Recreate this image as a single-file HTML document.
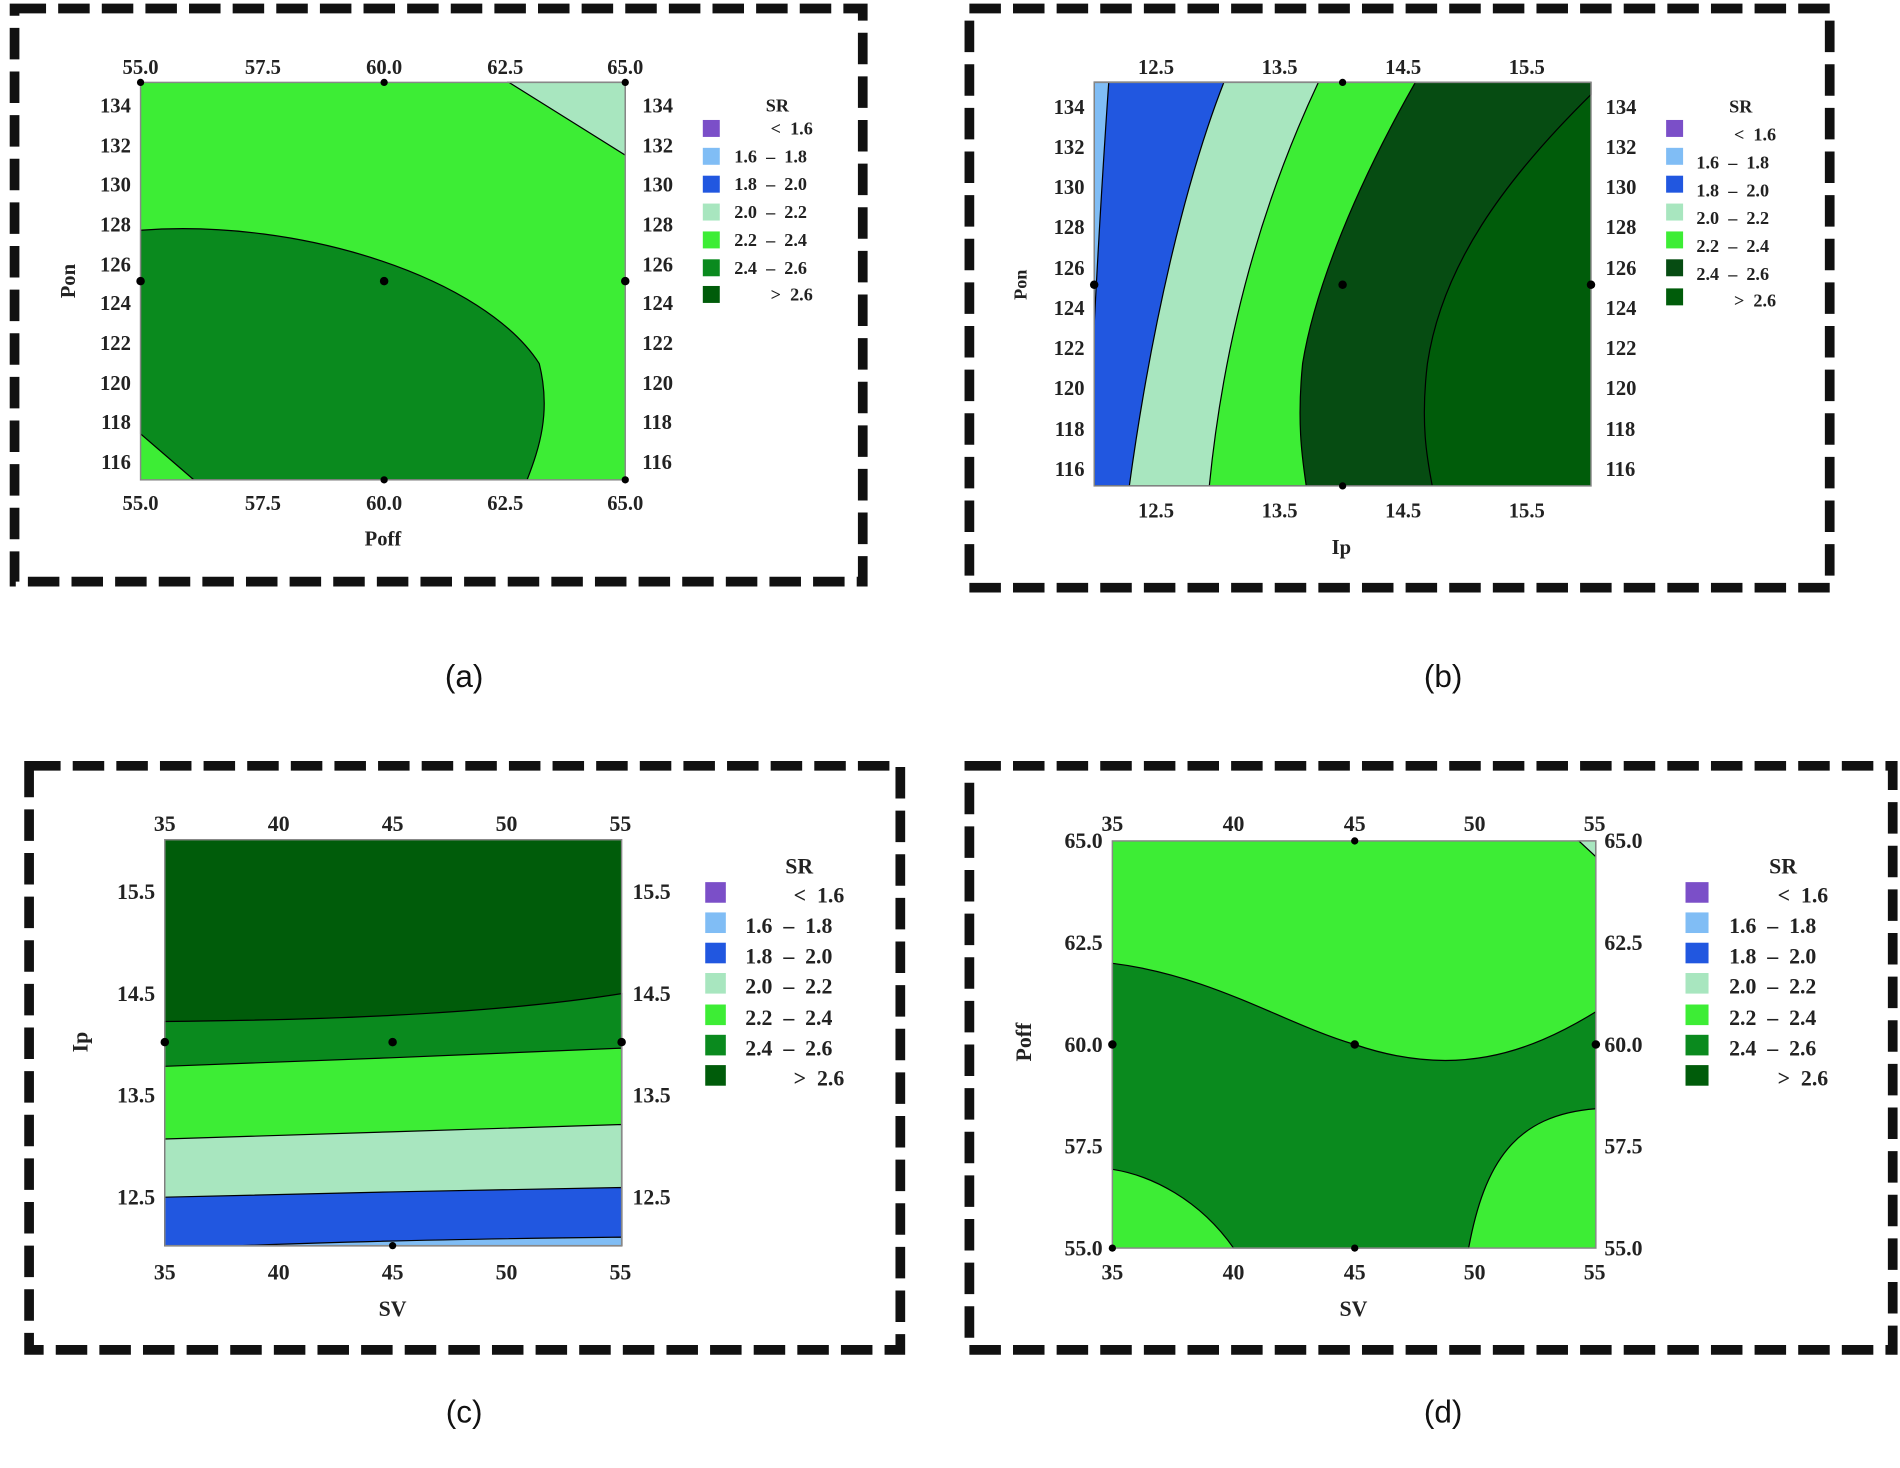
<!DOCTYPE html>
<html><head><style>
html,body{margin:0;padding:0;background:#fff;}
svg{display:block;}
text{font-family:"Liberation Serif",serif;font-weight:bold;fill:#222;white-space:pre;}
.lg{font-weight:normal;fill:#333;}
.cap{font-family:"Liberation Sans",sans-serif;font-weight:normal;font-size:26px;fill:#111;}
.fr{fill:none;stroke:#111;stroke-width:8;stroke-dasharray:26,10;}
.ax{fill:none;stroke:#888;stroke-width:1.2;}
.ct{stroke:#000;stroke-width:1;}
.ln{fill:none;stroke:#000;stroke-width:1;}
</style></head><body>
<svg width="1900" height="1468" viewBox="0 0 1568 1211.5" xmlns="http://www.w3.org/2000/svg">
<!-- ===== (a) ===== -->
<rect class="fr" x="12" y="7" width="700" height="473"/>
<rect x="116" y="68" width="400" height="328" fill="#3ded35"/>
<path d="M420,68 L516,68 L516,128 Z" fill="#a8e6bf" class="ct"/>
<path d="M116,190 C250,180 400,230 445,300 C455,340 445,370 435,396 L160,396 L116,358 Z" fill="#0a8a1e" class="ct"/>
<rect class="ax" x="116" y="68" width="400" height="328"/>
<g font-size="17" text-anchor="middle">
<text x="116" y="61">55.0</text><text x="217" y="61">57.5</text><text x="317" y="61">60.0</text><text x="417" y="61">62.5</text><text x="516" y="61">65.0</text>
<text x="116" y="421">55.0</text><text x="217" y="421">57.5</text><text x="317" y="421">60.0</text><text x="417" y="421">62.5</text><text x="516" y="421">65.0</text>
<text x="316" y="450">Poff</text>
</g>
<g font-size="17">
<g text-anchor="end">
<text x="108" y="93">134</text><text x="108" y="126">132</text><text x="108" y="158">130</text><text x="108" y="191">128</text><text x="108" y="224">126</text><text x="108" y="256">124</text><text x="108" y="289">122</text><text x="108" y="322">120</text><text x="108" y="354">118</text><text x="108" y="387">116</text>
</g>
<text x="530" y="93">134</text><text x="530" y="126">132</text><text x="530" y="158">130</text><text x="530" y="191">128</text><text x="530" y="224">126</text><text x="530" y="256">124</text><text x="530" y="289">122</text><text x="530" y="322">120</text><text x="530" y="354">118</text><text x="530" y="387">116</text>
<text transform="translate(62,232) rotate(-90)" text-anchor="middle">Pon</text>
</g>
<g fill="#000"><circle cx="116" cy="232" r="3.5"/><circle cx="317" cy="232" r="3.5"/><circle cx="516" cy="232" r="3.5"/><circle cx="317" cy="396" r="3"/><circle cx="317" cy="68" r="3"/><circle cx="516" cy="68" r="3"/><circle cx="116" cy="68" r="3"/><circle cx="516" cy="396" r="3"/></g>
<g class="lg" font-size="15">
<text x="632" y="92">SR</text>
<rect x="580" y="99" width="14" height="14" fill="#7b4fc8"/><text x="636" y="111">&lt;  1.6</text>
<rect x="580" y="122" width="14" height="14" fill="#80bdf5"/><text x="606" y="134">1.6  –  1.8</text>
<rect x="580" y="145" width="14" height="14" fill="#2157e0"/><text x="606" y="157">1.8  –  2.0</text>
<rect x="580" y="168" width="14" height="14" fill="#a8e6bf"/><text x="606" y="180">2.0  –  2.2</text>
<rect x="580" y="191" width="14" height="14" fill="#3ded35"/><text x="606" y="203">2.2  –  2.4</text>
<rect x="580" y="214" width="14" height="14" fill="#0a8a1e"/><text x="606" y="226">2.4  –  2.6</text>
<rect x="580" y="236" width="14" height="14" fill="#005c0a"/><text x="636" y="248">&gt;  2.6</text>
</g>
<text class="cap" x="383" y="567" text-anchor="middle">(a)</text>

<!-- ===== (b) ===== -->
<rect class="fr" x="800" y="7" width="710" height="478"/>
<rect x="903" y="68" width="410" height="333" fill="#005c0a"/>
<path d="M903,68 L1313,68 L1313,78 C1240,150 1190,220 1178,300 C1172,350 1178,380 1182,401 L903,401 Z" fill="#064c12" class="ct"/>
<path d="M903,68 L1168,68 C1110,170 1083,250 1075,300 C1070,350 1075,380 1078,401 L903,401 Z" fill="#3ded35" class="ct"/>
<path d="M903,68 L1088,68 C1040,170 1010,280 998,401 L903,401 Z" fill="#a8e6bf" class="ct"/>
<path d="M903,68 L1010,68 C978,150 950,270 932,401 L903,401 Z" fill="#2157e0" class="ct"/>
<path d="M903,68 L915,68 C910,140 906,210 903,268 Z" fill="#80bdf5" class="ct"/>
<rect class="ax" x="903" y="68" width="410" height="333"/>
<g font-size="17" text-anchor="middle">
<text x="954" y="61">12.5</text><text x="1056" y="61">13.5</text><text x="1158" y="61">14.5</text><text x="1260" y="61">15.5</text>
<text x="954" y="427">12.5</text><text x="1056" y="427">13.5</text><text x="1158" y="427">14.5</text><text x="1260" y="427">15.5</text>
<text x="1107" y="457">Ip</text>
</g>
<g font-size="17">
<g text-anchor="end">
<text x="895" y="94">134</text><text x="895" y="127">132</text><text x="895" y="160">130</text><text x="895" y="193">128</text><text x="895" y="227">126</text><text x="895" y="260">124</text><text x="895" y="293">122</text><text x="895" y="326">120</text><text x="895" y="360">118</text><text x="895" y="393">116</text>
</g>
<text x="1325" y="94">134</text><text x="1325" y="127">132</text><text x="1325" y="160">130</text><text x="1325" y="193">128</text><text x="1325" y="227">126</text><text x="1325" y="260">124</text><text x="1325" y="293">122</text><text x="1325" y="326">120</text><text x="1325" y="360">118</text><text x="1325" y="393">116</text>
<text transform="translate(847,235) rotate(-90)" text-anchor="middle" font-size="15">Pon</text>
</g>
<g fill="#000"><circle cx="903" cy="235" r="3.5"/><circle cx="1108" cy="235" r="3.5"/><circle cx="1313" cy="235" r="3.5"/><circle cx="1108" cy="68" r="3"/><circle cx="1108" cy="401" r="3"/></g>
<g class="lg" font-size="15">
<text x="1427" y="93">SR</text>
<rect x="1375" y="99" width="14" height="14" fill="#7b4fc8"/><text x="1431" y="116">&lt;  1.6</text>
<rect x="1375" y="122" width="14" height="14" fill="#80bdf5"/><text x="1400" y="139">1.6  –  1.8</text>
<rect x="1375" y="145" width="14" height="14" fill="#2157e0"/><text x="1400" y="162">1.8  –  2.0</text>
<rect x="1375" y="168" width="14" height="14" fill="#a8e6bf"/><text x="1400" y="185">2.0  –  2.2</text>
<rect x="1375" y="191" width="14" height="14" fill="#3ded35"/><text x="1400" y="208">2.2  –  2.4</text>
<rect x="1375" y="214" width="14" height="14" fill="#064c12"/><text x="1400" y="231">2.4  –  2.6</text>
<rect x="1375" y="238" width="14" height="14" fill="#005c0a"/><text x="1431" y="253">&gt;  2.6</text>
</g>
<text class="cap" x="1191" y="567" text-anchor="middle">(b)</text>

<!-- ===== (c) ===== -->
<rect class="fr" x="24" y="632" width="719" height="482"/>
<rect x="136" y="693" width="377" height="335" fill="#005c0a"/>
<path d="M136,843 C250,842 400,838 513,820 L513,1028 L136,1028 Z" fill="#0a8a1e" class="ct"/>
<path d="M136,880 C250,876 400,870 513,865 L513,1028 L136,1028 Z" fill="#3ded35" class="ct"/>
<path d="M136,940 C250,936 400,932 513,928 L513,1028 L136,1028 Z" fill="#a8e6bf" class="ct"/>
<path d="M136,988 C250,985 400,982 513,980 L513,1028 L136,1028 Z" fill="#2157e0" class="ct"/>
<path d="M200,1028 C300,1024 420,1022 513,1021 L513,1028 Z" fill="#80bdf5" class="ct"/>
<rect class="ax" x="136" y="693" width="377" height="335"/>
<g font-size="18" text-anchor="middle">
<text x="136" y="686">35</text><text x="230" y="686">40</text><text x="324" y="686">45</text><text x="418" y="686">50</text><text x="512" y="686">55</text>
<text x="136" y="1056">35</text><text x="230" y="1056">40</text><text x="324" y="1056">45</text><text x="418" y="1056">50</text><text x="512" y="1056">55</text>
<text x="324" y="1086" font-weight="normal">SV</text>
</g>
<g font-size="18">
<g text-anchor="end"><text x="128" y="742">15.5</text><text x="128" y="826">14.5</text><text x="128" y="910">13.5</text><text x="128" y="994">12.5</text></g>
<text x="522" y="742">15.5</text><text x="522" y="826">14.5</text><text x="522" y="910">13.5</text><text x="522" y="994">12.5</text>
<text transform="translate(72,860) rotate(-90)" text-anchor="middle">Ip</text>
</g>
<g fill="#000"><circle cx="136" cy="860" r="3.5"/><circle cx="324" cy="860" r="3.5"/><circle cx="513" cy="860" r="3.5"/><circle cx="324" cy="1028" r="3"/></g>
<g class="lg" font-size="18">
<text x="648" y="721">SR</text>
<rect x="582" y="728" width="17" height="17" fill="#7b4fc8"/><text x="655" y="745">&lt;  1.6</text>
<rect x="582" y="753" width="17" height="17" fill="#80bdf5"/><text x="615" y="770">1.6  –  1.8</text>
<rect x="582" y="778" width="17" height="17" fill="#2157e0"/><text x="615" y="795">1.8  –  2.0</text>
<rect x="582" y="803" width="17" height="17" fill="#a8e6bf"/><text x="615" y="820">2.0  –  2.2</text>
<rect x="582" y="829" width="17" height="17" fill="#3ded35"/><text x="615" y="846">2.2  –  2.4</text>
<rect x="582" y="854" width="17" height="17" fill="#0a8a1e"/><text x="615" y="871">2.4  –  2.6</text>
<rect x="582" y="879" width="17" height="17" fill="#005c0a"/><text x="655" y="896">&gt;  2.6</text>
</g>
<text class="cap" x="383" y="1174" text-anchor="middle">(c)</text>

<!-- ===== (d) ===== -->
<rect class="fr" x="800" y="632" width="762" height="482"/>
<rect x="918" y="694" width="399" height="336" fill="#3ded35"/>
<path d="M1303,694 L1317,694 L1317,707 Z" fill="#a8e6bf" class="ct"/>
<path d="M918,795 C1000,805 1060,845 1118,862 C1200,890 1260,870 1317,835 L1317,915 C1250,920 1225,960 1212,1030 L1018,1030 C990,990 950,970 918,965 Z" fill="#0a8a1e" class="ct"/>
<rect class="ax" x="918" y="694" width="399" height="336"/>
<g font-size="18" text-anchor="middle">
<text x="918" y="686">35</text><text x="1018" y="686">40</text><text x="1118" y="686">45</text><text x="1217" y="686">50</text><text x="1316" y="686">55</text>
<text x="918" y="1056">35</text><text x="1018" y="1056">40</text><text x="1118" y="1056">45</text><text x="1217" y="1056">50</text><text x="1316" y="1056">55</text>
<text x="1117" y="1086">SV</text>
</g>
<g font-size="18">
<g text-anchor="end"><text x="910" y="700">65.0</text><text x="910" y="784">62.5</text><text x="910" y="868">60.0</text><text x="910" y="952">57.5</text><text x="910" y="1036">55.0</text></g>
<text x="1324" y="700">65.0</text><text x="1324" y="784">62.5</text><text x="1324" y="868">60.0</text><text x="1324" y="952">57.5</text><text x="1324" y="1036">55.0</text>
<text transform="translate(851,860) rotate(-90)" text-anchor="middle">Poff</text>
</g>
<g fill="#000"><circle cx="918" cy="862" r="3.5"/><circle cx="1118" cy="862" r="3.5"/><circle cx="1317" cy="862" r="3.5"/><circle cx="1118" cy="1030" r="3"/><circle cx="1118" cy="694" r="3"/><circle cx="918" cy="1030" r="3"/></g>
<g class="lg" font-size="18">
<text x="1460" y="721">SR</text>
<rect x="1391" y="728" width="19" height="17" fill="#7b4fc8"/><text x="1467" y="745">&lt;  1.6</text>
<rect x="1391" y="753" width="19" height="17" fill="#80bdf5"/><text x="1427" y="770">1.6  –  1.8</text>
<rect x="1391" y="778" width="19" height="17" fill="#2157e0"/><text x="1427" y="795">1.8  –  2.0</text>
<rect x="1391" y="803" width="19" height="17" fill="#a8e6bf"/><text x="1427" y="820">2.0  –  2.2</text>
<rect x="1391" y="829" width="19" height="17" fill="#3ded35"/><text x="1427" y="846">2.2  –  2.4</text>
<rect x="1391" y="854" width="19" height="17" fill="#0a8a1e"/><text x="1427" y="871">2.4  –  2.6</text>
<rect x="1391" y="879" width="19" height="17" fill="#005c0a"/><text x="1467" y="896">&gt;  2.6</text>
</g>
<text class="cap" x="1191" y="1174" text-anchor="middle">(d)</text>
</svg>
</body></html>
